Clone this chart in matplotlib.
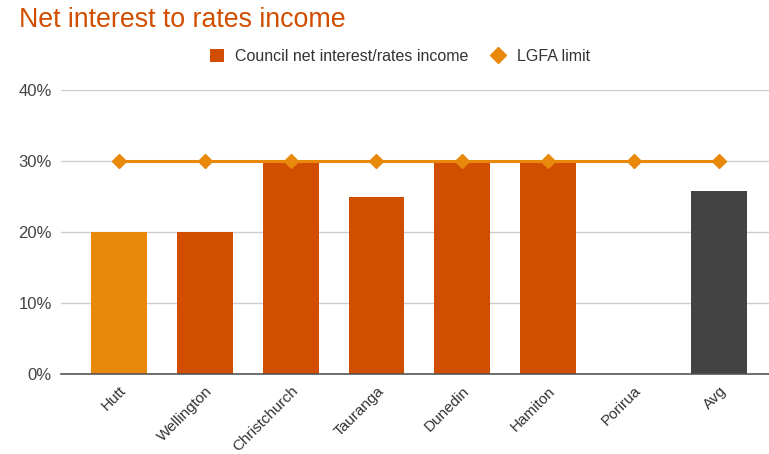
import matplotlib.pyplot as plt
from matplotlib.lines import Line2D
from matplotlib.patches import Patch

plt.rcParams['font.family'] = ['Liberation Sans', 'DejaVu Sans']

councils = ["Hutt", "Wellington", "Christchurch", "Tauranga", "Dunedin",
            "Hamiton", "Porirua", "Avg"]
net_interest = [20.0, 20.0, 30.0, 25.0, 30.0, 30.0, None, 25.8]
lgfa_limit = [30, 30, 30, 30, 30, 30, 30, 30]
yticks = [0, 10, 20, 30, 40]

bar_colors = ["#E8890C", "#D14E00", "#D14E00", "#D14E00", "#D14E00",
              "#D14E00", "#D14E00", "#434343"]
title_color = "#D14E00"
line_color = "#E8890C"

fig = plt.figure(figsize=(7.69, 4.54), dpi=100)
ax = fig.add_axes([61/769, 1 - 374/454, 1 - 61/769, (374 - 90)/454])

xs = range(len(councils))
for x, v, c in zip(xs, net_interest, bar_colors):
    if v is None:
        continue
    ax.bar(x, v, width=0.65, color=c, zorder=2)

ax.plot(list(xs), lgfa_limit, color=line_color, lw=2.2, marker="D",
        markersize=7.5, zorder=3, clip_on=False)

ax.set_ylim(0, 40)
ax.set_xlim(-0.68, 7.58)
ax.set_yticks(yticks)
ax.set_yticklabels([f"{t}%" for t in yticks])
ax.yaxis.grid(True, color="#cccccc", lw=1, zorder=0)
ax.set_axisbelow(True)
for s in ["top", "right", "left"]:
    ax.spines[s].set_visible(False)
ax.spines["bottom"].set_color("#555555")
ax.spines["bottom"].set_linewidth(1.2)
ax.spines["bottom"].set_zorder(4)
ax.tick_params(axis="y", length=0, pad=6.5, labelsize=12, labelcolor="#444444")
ax.tick_params(axis="x", length=0, pad=7, labelsize=11, labelcolor="#333333")
ax.set_xticks(list(xs))
ax.set_xticklabels(councils, rotation=45, ha="right", rotation_mode="anchor")

fig.text(19/769, 0.957, "Net interest to rates income", color=title_color,
         fontsize=19.3, va="center", ha="left")

handles = [Patch(facecolor="#D14E00", edgecolor="none"),
           Line2D([], [], color=line_color, marker="D", lw=0, markersize=8.5)]
fig.legend(handles, ["Council net interest/rates income", "LGFA limit"],
           loc="center", bbox_to_anchor=(0.52, 0.875), ncol=2, frameon=False,
           fontsize=11.5, handlelength=0.9, handleheight=0.9,
           columnspacing=1.4, handletextpad=0.7, labelcolor="#333333")

fig.savefig("out.png", dpi=100, facecolor="white")
